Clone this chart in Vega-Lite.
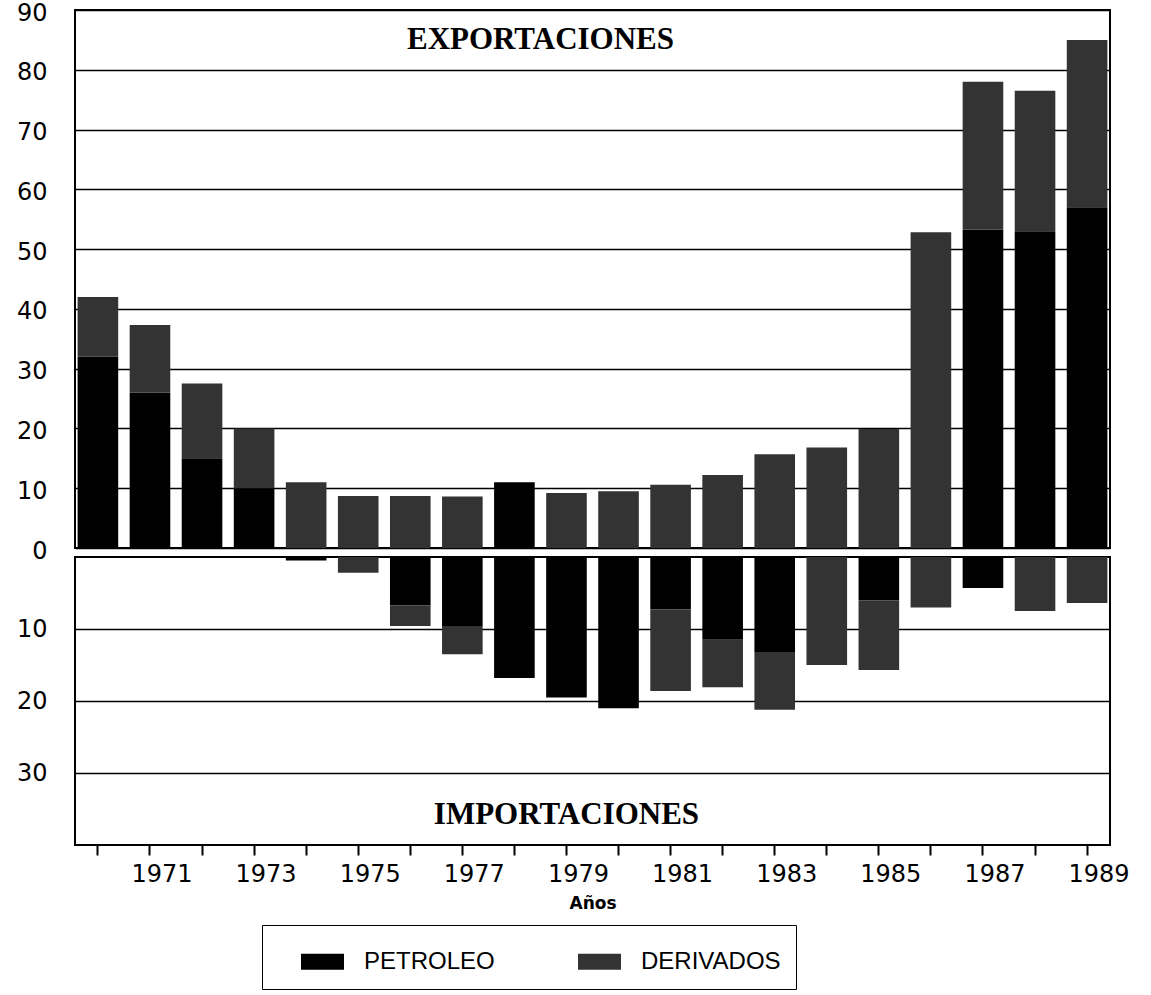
{
  "$schema": "https://vega.github.io/schema/vega-lite/v6.json",
  "background": "white",
  "padding": {"left": 15, "top": 0, "right": 30, "bottom": 0},
  "spacing": 9,
  "bounds": "flush",
  "datasets": {
    "exp": [
      {"year": 1970, "tipo": "PETROLEO", "orden": 1, "valor": 32},
      {"year": 1970, "tipo": "DERIVADOS", "orden": 2, "valor": 10},
      {"year": 1971, "tipo": "PETROLEO", "orden": 1, "valor": 26},
      {"year": 1971, "tipo": "DERIVADOS", "orden": 2, "valor": 11.3},
      {"year": 1972, "tipo": "PETROLEO", "orden": 1, "valor": 15},
      {"year": 1972, "tipo": "DERIVADOS", "orden": 2, "valor": 12.5},
      {"year": 1973, "tipo": "PETROLEO", "orden": 1, "valor": 10},
      {"year": 1973, "tipo": "DERIVADOS", "orden": 2, "valor": 10},
      {"year": 1974, "tipo": "PETROLEO", "orden": 1, "valor": 0},
      {"year": 1974, "tipo": "DERIVADOS", "orden": 2, "valor": 11},
      {"year": 1975, "tipo": "PETROLEO", "orden": 1, "valor": 0},
      {"year": 1975, "tipo": "DERIVADOS", "orden": 2, "valor": 8.7},
      {"year": 1976, "tipo": "PETROLEO", "orden": 1, "valor": 0},
      {"year": 1976, "tipo": "DERIVADOS", "orden": 2, "valor": 8.7},
      {"year": 1977, "tipo": "PETROLEO", "orden": 1, "valor": 0},
      {"year": 1977, "tipo": "DERIVADOS", "orden": 2, "valor": 8.6},
      {"year": 1978, "tipo": "PETROLEO", "orden": 1, "valor": 11},
      {"year": 1978, "tipo": "DERIVADOS", "orden": 2, "valor": 0},
      {"year": 1979, "tipo": "PETROLEO", "orden": 1, "valor": 0},
      {"year": 1979, "tipo": "DERIVADOS", "orden": 2, "valor": 9.2},
      {"year": 1980, "tipo": "PETROLEO", "orden": 1, "valor": 0},
      {"year": 1980, "tipo": "DERIVADOS", "orden": 2, "valor": 9.5},
      {"year": 1981, "tipo": "PETROLEO", "orden": 1, "valor": 0},
      {"year": 1981, "tipo": "DERIVADOS", "orden": 2, "valor": 10.6},
      {"year": 1982, "tipo": "PETROLEO", "orden": 1, "valor": 0},
      {"year": 1982, "tipo": "DERIVADOS", "orden": 2, "valor": 12.2},
      {"year": 1983, "tipo": "PETROLEO", "orden": 1, "valor": 0},
      {"year": 1983, "tipo": "DERIVADOS", "orden": 2, "valor": 15.7},
      {"year": 1984, "tipo": "PETROLEO", "orden": 1, "valor": 0},
      {"year": 1984, "tipo": "DERIVADOS", "orden": 2, "valor": 16.8},
      {"year": 1985, "tipo": "PETROLEO", "orden": 1, "valor": 0},
      {"year": 1985, "tipo": "DERIVADOS", "orden": 2, "valor": 19.9},
      {"year": 1986, "tipo": "PETROLEO", "orden": 1, "valor": 0},
      {"year": 1986, "tipo": "DERIVADOS", "orden": 2, "valor": 52.8},
      {"year": 1987, "tipo": "PETROLEO", "orden": 1, "valor": 53.3},
      {"year": 1987, "tipo": "DERIVADOS", "orden": 2, "valor": 24.7},
      {"year": 1988, "tipo": "PETROLEO", "orden": 1, "valor": 53},
      {"year": 1988, "tipo": "DERIVADOS", "orden": 2, "valor": 23.5},
      {"year": 1989, "tipo": "PETROLEO", "orden": 1, "valor": 57},
      {"year": 1989, "tipo": "DERIVADOS", "orden": 2, "valor": 28}
    ],
    "imp": [
      {"year": 1970, "tipo": "PETROLEO", "orden": 1, "valor": 0},
      {"year": 1970, "tipo": "DERIVADOS", "orden": 2, "valor": 0},
      {"year": 1971, "tipo": "PETROLEO", "orden": 1, "valor": 0},
      {"year": 1971, "tipo": "DERIVADOS", "orden": 2, "valor": 0},
      {"year": 1972, "tipo": "PETROLEO", "orden": 1, "valor": 0},
      {"year": 1972, "tipo": "DERIVADOS", "orden": 2, "valor": 0},
      {"year": 1973, "tipo": "PETROLEO", "orden": 1, "valor": 0},
      {"year": 1973, "tipo": "DERIVADOS", "orden": 2, "valor": 0},
      {"year": 1974, "tipo": "PETROLEO", "orden": 1, "valor": 0.5},
      {"year": 1974, "tipo": "DERIVADOS", "orden": 2, "valor": 0},
      {"year": 1975, "tipo": "PETROLEO", "orden": 1, "valor": 0},
      {"year": 1975, "tipo": "DERIVADOS", "orden": 2, "valor": 2.2},
      {"year": 1976, "tipo": "PETROLEO", "orden": 1, "valor": 6.7},
      {"year": 1976, "tipo": "DERIVADOS", "orden": 2, "valor": 2.9},
      {"year": 1977, "tipo": "PETROLEO", "orden": 1, "valor": 9.6},
      {"year": 1977, "tipo": "DERIVADOS", "orden": 2, "valor": 3.9},
      {"year": 1978, "tipo": "PETROLEO", "orden": 1, "valor": 16.8},
      {"year": 1978, "tipo": "DERIVADOS", "orden": 2, "valor": 0},
      {"year": 1979, "tipo": "PETROLEO", "orden": 1, "valor": 19.5},
      {"year": 1979, "tipo": "DERIVADOS", "orden": 2, "valor": 0},
      {"year": 1980, "tipo": "PETROLEO", "orden": 1, "valor": 21},
      {"year": 1980, "tipo": "DERIVADOS", "orden": 2, "valor": 0},
      {"year": 1981, "tipo": "PETROLEO", "orden": 1, "valor": 7.3},
      {"year": 1981, "tipo": "DERIVADOS", "orden": 2, "valor": 11.3},
      {"year": 1982, "tipo": "PETROLEO", "orden": 1, "valor": 11.5},
      {"year": 1982, "tipo": "DERIVADOS", "orden": 2, "valor": 6.6},
      {"year": 1983, "tipo": "PETROLEO", "orden": 1, "valor": 13.2},
      {"year": 1983, "tipo": "DERIVADOS", "orden": 2, "valor": 8},
      {"year": 1984, "tipo": "PETROLEO", "orden": 1, "valor": 0},
      {"year": 1984, "tipo": "DERIVADOS", "orden": 2, "valor": 15},
      {"year": 1985, "tipo": "PETROLEO", "orden": 1, "valor": 6},
      {"year": 1985, "tipo": "DERIVADOS", "orden": 2, "valor": 9.7},
      {"year": 1986, "tipo": "PETROLEO", "orden": 1, "valor": 0},
      {"year": 1986, "tipo": "DERIVADOS", "orden": 2, "valor": 7},
      {"year": 1987, "tipo": "PETROLEO", "orden": 1, "valor": 4.3},
      {"year": 1987, "tipo": "DERIVADOS", "orden": 2, "valor": 0},
      {"year": 1988, "tipo": "PETROLEO", "orden": 1, "valor": 0},
      {"year": 1988, "tipo": "DERIVADOS", "orden": 2, "valor": 7.5},
      {"year": 1989, "tipo": "PETROLEO", "orden": 1, "valor": 0},
      {"year": 1989, "tipo": "DERIVADOS", "orden": 2, "valor": 6.4}
    ],
    "titulos": [
      {"label": "EXPORTACIONES"}
    ],
    "titulos2": [
      {"label": "IMPORTACIONES"}
    ]
  },
  "config": {
    "font": "DejaVu Sans",
    "view": {"stroke": "black", "strokeWidth": 2},
    "axis": {
      "gridColor": "black",
      "gridWidth": 1.5,
      "gridOpacity": 1,
      "domain": false,
      "labelColor": "black",
      "labelFontSize": 24,
      "labelFont": "DejaVu Sans"
    },
    "axisY": {"minExtent": 55, "maxExtent": 55, "ticks": false, "labelPadding": 28}
  },
  "vconcat": [
    {
      "width": 1035,
      "height": 538,
      "layer": [
        {
          "data": {"name": "exp"},
          "mark": {"type": "bar"},
          "encoding": {
            "x": {"field": "year", "type": "ordinal", "axis": null,
                  "scale": {"paddingInner": 0.22, "paddingOuter": 0.05}},
            "y": {"field": "valor", "type": "quantitative", "stack": "zero",
                  "scale": {"domain": [0, 90], "nice": false},
                  "axis": {"values": [0, 10, 20, 30, 40, 50, 60, 70, 80, 90], "title": null, "grid": true, "labelOffset": 3}},
            "color": {"field": "tipo", "type": "nominal",
                      "scale": {"domain": ["PETROLEO", "DERIVADOS"], "range": ["#000000", "#333333"]},
                      "legend": {"orient": "none", "legendX": 187, "legendY": 915, "direction": "horizontal",
                                 "title": null, "strokeColor": "black", "fillColor": "white", "padding": 15,
                                 "symbolType": "M-1,-0.37H1V0.37H-1Z", "symbolSize": 1849, "symbolStrokeWidth": 0,
                                 "symbolOpacity": 1, "symbolOffset": 24,
                                 "labelFont": "Liberation Sans", "labelFontSize": 24, "labelColor": "black",
                                 "labelOffset": 20, "columnPadding": 59}},
            "order": {"field": "orden", "type": "quantitative"}
          }
        },
        {
          "data": {"name": "titulos"},
          "mark": {"type": "text", "font": "Liberation Serif", "fontWeight": "bold", "fontSize": 31, "dx": -26, "color": "black"},
          "encoding": {
            "x": {"datum": 1979, "type": "ordinal"},
            "y": {"datum": 85, "type": "quantitative"},
            "text": {"field": "label"}
          }
        }
      ]
    },
    {
      "width": 1035,
      "height": 288,
      "layer": [
        {
          "data": {"name": "imp"},
          "mark": {"type": "bar"},
          "encoding": {
            "x": {"field": "year", "type": "ordinal",
                  "scale": {"paddingInner": 0.22, "paddingOuter": 0.05},
                  "axis": {"title": "Años", "labelExpr": "datum.value % 2 == 1 ? datum.label : ''",
                           "labelAngle": 0, "tickSize": 10, "tickColor": "black", "tickWidth": 2,
                           "labelOffset": 12, "labelPadding": 7, "titleFontSize": 17, "titleFontWeight": "bold",
                           "titleColor": "black", "titlePadding": 9, "grid": false}},
            "y": {"field": "valor", "type": "quantitative", "stack": "zero",
                  "scale": {"domain": [0, 40], "reverse": true, "nice": false},
                  "axis": {"values": [10, 20, 30], "title": null, "grid": true}},
            "color": {"field": "tipo", "type": "nominal",
                      "scale": {"domain": ["PETROLEO", "DERIVADOS"], "range": ["#000000", "#333333"]}},
            "order": {"field": "orden", "type": "quantitative"}
          }
        },
        {
          "data": {"name": "titulos2"},
          "mark": {"type": "text", "font": "Liberation Serif", "fontWeight": "bold", "fontSize": 31, "dx": 0, "color": "black"},
          "encoding": {
            "x": {"datum": 1979, "type": "ordinal"},
            "y": {"datum": 35.8, "type": "quantitative"},
            "text": {"field": "label"}
          }
        }
      ]
    }
  ]
}
